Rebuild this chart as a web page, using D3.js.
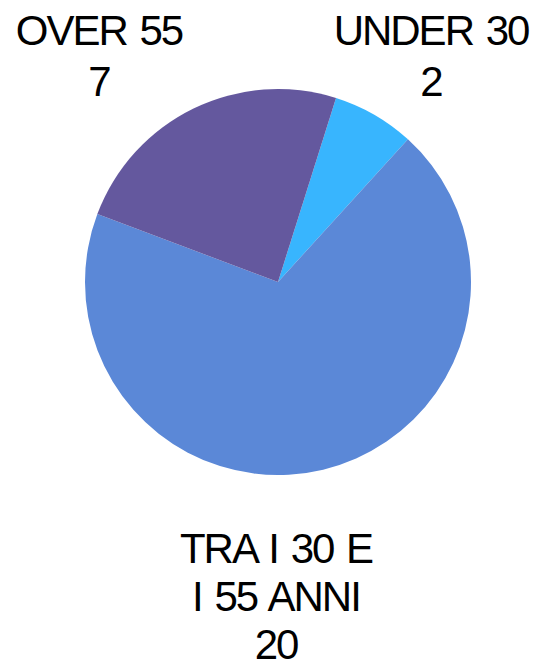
<!DOCTYPE html>
<html>
<head>
<meta charset="utf-8">
<script src="https://cdn.jsdelivr.net/npm/d3@7"></script>
<style>
  html, body { margin: 0; padding: 0; background: #fff; }
  #chart { width: 534px; height: 671px; }
</style>
</head>
<body>
<div id="chart"></div>
<script>
// data
const categories = ["UNDER 30", "TRA I 30 E I 55 ANNI", "OVER 55"];
const values = [2, 20, 7];
const labelLines = [["UNDER 30"], ["TRA I 30 E", "I 55 ANNI"], ["OVER 55"]];

const colors = ["#38b5fe", "#5b88d7", "#64589e"];

const width = 534;
const height = 671;
const cx = 278;
const cy = 282;
const radius = 193;
const startOffset = 17.5 * Math.PI / 180;

// where each label block sits (center x, first baseline, line gap)
const labelPos = [
  { x: 431, y: 45, gap: 51 },
  { x: 276, y: 563, gap: 48 },
  { x: 99, y: 45, gap: 51 }
];

const svg = d3.select("#chart")
  .append("svg")
  .attr("width", width)
  .attr("height", height);

const pie = d3.pie()
  .sort(null)
  .value(d => d.value)
  .startAngle(startOffset)
  .endAngle(startOffset + 2 * Math.PI);

const arc = d3.arc()
  .innerRadius(0)
  .outerRadius(radius);

const data = categories.map((c, i) => ({ cat: c, value: values[i], lines: labelLines[i], color: colors[i], pos: labelPos[i] }));

const g = svg.append("g")
  .attr("transform", `translate(${cx},${cy})`);

g.selectAll("path")
  .data(pie(data))
  .enter()
  .append("path")
  .attr("d", arc)
  .attr("fill", d => d.data.color);

const labels = svg.selectAll(".label")
  .data(data)
  .enter()
  .append("text")
  .attr("class", "label")
  .attr("text-anchor", "middle")
  .style("font-family", "'Liberation Sans', Arial, Helvetica, sans-serif")
  .style("font-size", "42px")
  .style("letter-spacing", "-2px")
  .style("word-spacing", "3px")
  .attr("fill", "#000");

labels.each(function (d) {
  const t = d3.select(this);
  const lines = d.lines.concat([String(d.value)]);
  lines.forEach((ln, i) => {
    t.append("tspan")
      .attr("x", d.pos.x)
      .attr("y", d.pos.y + i * d.pos.gap)
      .text(ln);
  });
});
</script>
</body>
</html>
